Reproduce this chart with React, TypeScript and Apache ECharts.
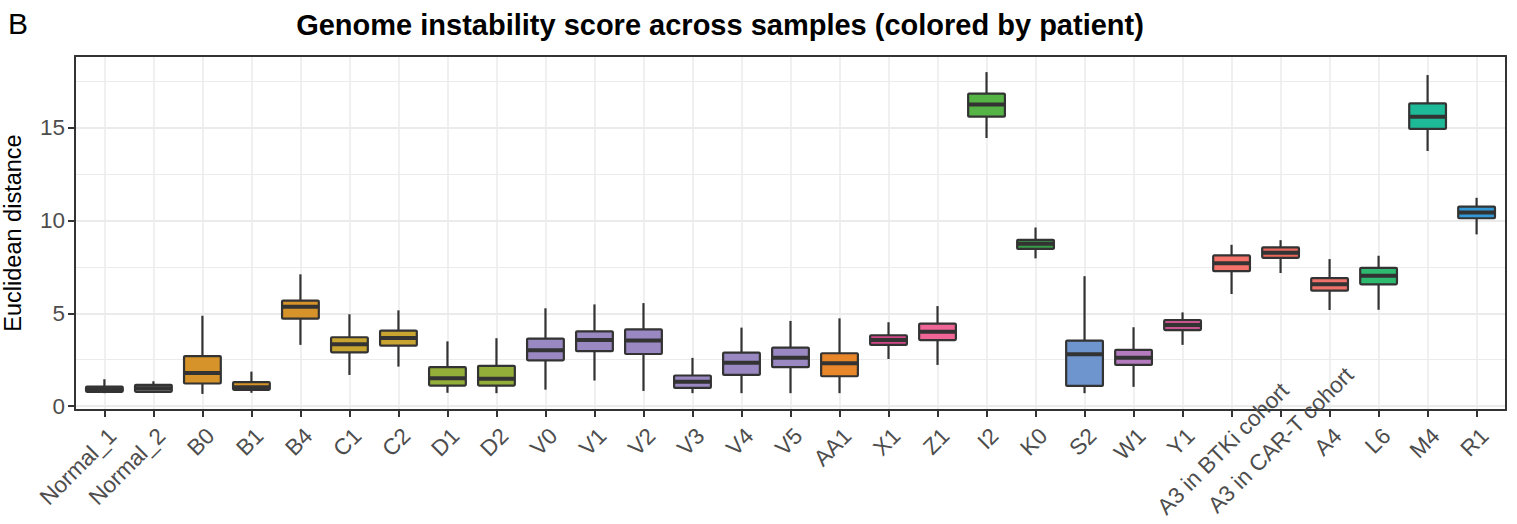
import React, { useEffect, useRef } from 'react';
import * as echarts from 'echarts';

// Samples, in plotting order
const categories = [
  'Normal_1', 'Normal_2', 'B0', 'B1', 'B4', 'C1', 'C2', 'D1', 'D2',
  'V0', 'V1', 'V2', 'V3', 'V4', 'V5', 'AA1', 'X1', 'Z1', 'I2', 'K0',
  'S2', 'W1', 'Y1', 'A3 in BTKi cohort', 'A3 in CAR-T cohort', 'A4', 'L6', 'M4', 'R1',
];

// Five-number summaries of the Euclidean distance per sample
const whiskerLow = [0.70, 0.72, 0.66, 0.72, 3.30, 1.68, 2.13, 0.72, 0.70, 0.89, 1.38, 0.82, 0.70, 0.70, 0.70, 0.70, 2.54, 2.22, 14.44, 7.96, 0.70, 1.04, 3.30, 6.04, 7.17, 5.18, 5.19, 13.74, 9.25];
const q1 = [0.77, 0.77, 1.22, 0.88, 4.71, 2.90, 3.26, 1.11, 1.11, 2.47, 2.96, 2.81, 0.98, 1.68, 2.10, 1.61, 3.30, 3.56, 15.59, 8.47, 1.09, 2.22, 4.10, 7.27, 7.99, 6.22, 6.56, 14.93, 10.12];
const medians = [0.91, 0.97, 1.79, 1.02, 5.36, 3.33, 3.67, 1.50, 1.47, 3.01, 3.56, 3.53, 1.31, 2.34, 2.61, 2.31, 3.56, 4.01, 16.25, 8.74, 2.80, 2.61, 4.37, 7.69, 8.26, 6.56, 7.02, 15.59, 10.43];
const q3 = [1.05, 1.15, 2.70, 1.29, 5.68, 3.71, 4.07, 2.10, 2.17, 3.64, 4.03, 4.14, 1.65, 2.88, 3.15, 2.85, 3.82, 4.44, 16.83, 8.96, 3.53, 3.03, 4.64, 8.12, 8.55, 6.90, 7.45, 16.31, 10.75];
const whiskerHigh = [1.45, 1.34, 4.87, 1.86, 7.10, 4.95, 5.16, 3.49, 3.66, 5.27, 5.48, 5.55, 2.60, 4.23, 4.59, 4.73, 4.52, 5.39, 17.99, 9.62, 7.00, 4.25, 5.05, 8.69, 8.94, 7.92, 8.10, 17.83, 11.22];

// Axis ticks
const majorTicks = [0, 5, 10, 15];
const minorTicks = [2.5, 7.5, 12.5, 17.5];

// Fill colour per sample (by patient)
const boxColors = [
  '#7F7F7F', '#7F7F7F',
  '#D6932A', '#D6932A', '#D6932A',
  '#C8A431', '#C8A431',
  '#94AE3A', '#94AE3A',
  '#9A88C2', '#9A88C2', '#9A88C2', '#9A88C2', '#9A88C2', '#9A88C2',
  '#E8862A', '#D4488A', '#EE6596', '#56B447', '#3A9A48',
  '#6E95CE', '#B57BBF', '#C9558F',
  '#F4726A', '#E8685E', '#F0726A',
  '#2EBB6F', '#1EBA98', '#3399D6',
];

const FONT = '"Liberation Sans", Arial, Helvetica, sans-serif';
const INK = '#333333';
const GRID = '#EBEBEB';
const TICK_TEXT = '#4D4D4D';
const TICK_SIZE = 22.5;

// The two cohort labels sit further along their slant than the rest
const labelStyle = { fontSize: TICK_SIZE, fontFamily: FONT, color: TICK_TEXT };
const richLabels = {
  plain: { ...labelStyle },
  btki: { ...labelStyle, padding: [0, -64, 0, 0] },
  cart: { ...labelStyle, padding: [0, -86, 0, 0] },
};

function formatCategory(v: number) {
  const name = categories[Math.round(v)];
  if (name === 'A3 in BTKi cohort') return `{btki|${name}}`;
  if (name === 'A3 in CAR-T cohort') return `{cart|${name}}`;
  return `{plain|${name}}`;
}

export default function App() {
  const ref = useRef<HTMLDivElement>(null);

  useEffect(() => {
    const chart = echarts.init(ref.current!, null, { renderer: 'svg' });
    const idx = categories.map((_, i) => i);
    const data = categories.map((_, i) => [i, whiskerLow[i], q1[i], medians[i], q3[i], whiskerHigh[i]]);
    const lo = Math.min(...whiskerLow);
    const hi = Math.max(...whiskerHigh);
    const pad = (hi - lo) * 0.05;
    const yMin = lo - pad;
    const yMax = hi + pad;
    const xMin = -0.6;
    const xMax = categories.length - 1 + 0.6;

    chart.setOption({
      animation: false,
      grid: { left: 75, right: 11, top: 56, bottom: 114, outerBoundsMode: 'none', containLabel: false },
      graphic: [
        {
          type: 'text', left: 8, top: 8,
          style: { text: 'B', fontSize: 30, fontFamily: FONT, fill: '#000' },
        },
        {
          type: 'text', x: 720, y: 25,
          style: {
            text: 'Genome instability score across samples (colored by patient)',
            fontSize: 29, fontWeight: 'bold', fontFamily: FONT, fill: '#000',
            align: 'center', verticalAlign: 'middle',
          },
        },
      ],
      xAxis: [
        {
          type: 'value', min: xMin, max: xMax,
          axisLine: { show: true, onZero: false, lineStyle: { color: INK, width: 2 } },
          axisTick: { show: true, customValues: idx, length: 7, lineStyle: { color: INK, width: 2 } },
          axisLabel: {
            customValues: idx,
            formatter: formatCategory,
            rich: richLabels,
            rotate: 45, align: 'right', verticalAlign: 'top',
            fontSize: TICK_SIZE, color: TICK_TEXT, fontFamily: FONT, margin: 14,
          },
          splitLine: { show: true, lineStyle: { color: GRID, width: 1.5 } },
        },
        {
          type: 'value', position: 'top', min: xMin, max: xMax,
          axisLine: { show: true, onZero: false, lineStyle: { color: INK, width: 2 } },
          axisTick: { show: false }, axisLabel: { show: false }, splitLine: { show: false },
        },
      ],
      yAxis: [
        {
          type: 'value', min: yMin, max: yMax,
          name: 'Euclidean distance', nameLocation: 'middle', nameGap: 50,
          nameTextStyle: { fontSize: 23.5, color: '#000', fontFamily: FONT },
          axisLine: { show: true, onZero: false, lineStyle: { color: INK, width: 2 } },
          axisTick: { show: true, customValues: majorTicks, length: 7, lineStyle: { color: INK, width: 2 } },
          axisLabel: { customValues: majorTicks, fontSize: TICK_SIZE, color: TICK_TEXT, fontFamily: FONT, margin: 10 },
          splitLine: { show: true, lineStyle: { color: GRID, width: 1.8 } },
        },
        {
          type: 'value', position: 'right', min: yMin, max: yMax,
          axisLine: { show: true, onZero: false, lineStyle: { color: INK, width: 2 } },
          axisTick: { show: false, customValues: minorTicks },
          axisLabel: { show: false },
          splitLine: { show: true, lineStyle: { color: GRID, width: 1 } },
        },
      ],
      series: [
        {
          type: 'custom',
          xAxisIndex: 0,
          yAxisIndex: 0,
          data,
          encode: { x: 0, y: [1, 2, 3, 4, 5] },
          renderItem: (params: any, api: any) => {
            const x = api.value(0);
            const pLow = api.coord([x, api.value(1)]);
            const pQ1 = api.coord([x, api.value(2)]);
            const pMed = api.coord([x, api.value(3)]);
            const pQ3 = api.coord([x, api.value(4)]);
            const pHigh = api.coord([x, api.value(5)]);
            const half = api.size([0.75, 0])[0] / 2;
            const cx = pMed[0];
            return {
              type: 'group',
              children: [
                { type: 'line', shape: { x1: cx, y1: pQ3[1], x2: cx, y2: pHigh[1] }, style: { stroke: INK, lineWidth: 2.2 } },
                { type: 'line', shape: { x1: cx, y1: pLow[1], x2: cx, y2: pQ1[1] }, style: { stroke: INK, lineWidth: 2.2 } },
                {
                  type: 'rect',
                  shape: { x: cx - half, y: pQ3[1], width: half * 2, height: pQ1[1] - pQ3[1], r: 1 },
                  style: { fill: boxColors[params.dataIndex], stroke: INK, lineWidth: 2.2 },
                },
                { type: 'line', shape: { x1: cx - half, y1: pMed[1], x2: cx + half, y2: pMed[1] }, style: { stroke: INK, lineWidth: 4 } },
              ],
            };
          },
        },
      ],
    });

    return () => chart.dispose();
  }, []);

  return (
    <div
      ref={ref}
      style={{ position: 'absolute', left: 0, top: 0, width: '1517px', height: '524px', background: '#fff' }}
    />
  );
}
